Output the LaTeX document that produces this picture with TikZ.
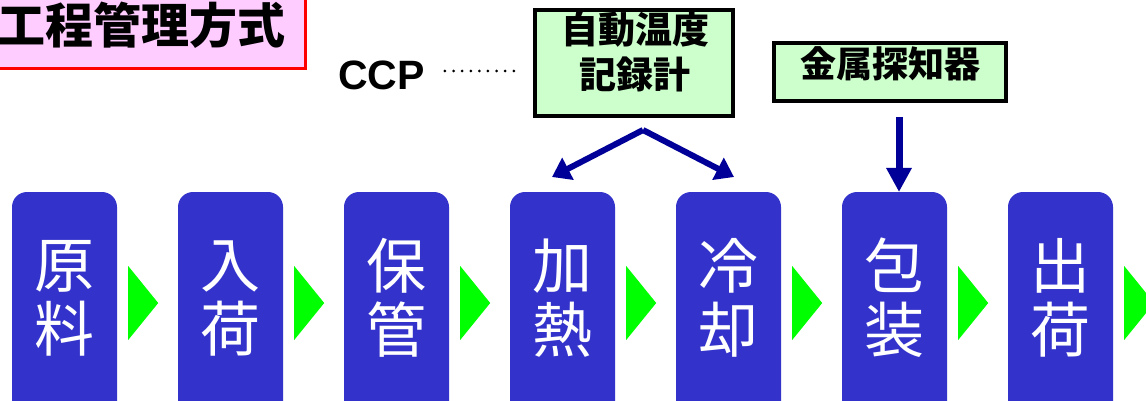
\documentclass[tikz,border=0pt]{standalone}
\usepackage{fontspec}
\setsansfont{Liberation Sans}
\newfontfamily\cjk{Noto Sans CJK JP}
\usetikzlibrary{arrows.meta,calc}
\definecolor{boxblue}{HTML}{3333CC}
\definecolor{arrowblue}{HTML}{000099}
\definecolor{tripgreen}{HTML}{00FF00}
\definecolor{titlepink}{HTML}{FFCCFF}
\definecolor{titlered}{HTML}{FF0000}
\definecolor{notegreen}{HTML}{CCFFCC}
\tikzset{
  stepbox/.style={fill=boxblue, draw=none, rounded corners=15pt, minimum width=105pt, minimum height=228pt, inner sep=0pt},
  steptext/.style={text=white, align=center, font=\cjk\fontsize{60}{64}\selectfont, inner sep=0pt},
  chev/.style={fill=tripgreen},
  notebox/.style={fill=notegreen, draw=black, line width=4pt, inner sep=0pt},
  notetext/.style={align=center, inner sep=0pt, text=black},
  bluearrow/.style={draw=arrowblue, line width=6pt, -{Triangle[length=18pt,width=24pt]}},
  dotline/.style={line width=3pt, line cap=round, dash pattern=on 0pt off 8.6pt},
}
\begin{document}
\begin{tikzpicture}[x=1pt,y=-1pt]
\useasboundingbox (0,0) rectangle (1146,401);
\clip (0,0) rectangle (1146,401);
\fill[white] (0,0) rectangle (1146,401);
% title
\node[fill=titlepink, draw=titlered, line width=3pt, minimum width=315.5pt, minimum height=78.5pt, inner sep=0pt] (title) at (147.75,29.25) {};
\node[notetext, font=\cjk\bfseries\fontsize{48}{52}\selectfont] (titletext) at (142,25) {工程管理方式};
% steps
\foreach \t [count=\n] in {原\\料,入\\荷,保\\管,加\\熱,冷\\却,包\\装,出\\荷}{
  \node[stepbox] (b\n) at ({64.5+166*(\n-1)},306) {};
  \node[steptext] (t\n) at ({64.5+166*(\n-1)},298) {\t};
  \fill[chev] ($(b\n.east)+(11,-40)$) -- ($(b\n.east)+(41,-3)$) -- ($(b\n.east)+(11,34)$) -- cycle;
}
% CCP
\node[inner sep=0pt, anchor=base west, font=\sffamily\bfseries\fontsize{41}{45}\selectfont] (ccp) at (338,90) {CCP};
% temperature recorder
\node[notebox, minimum width=198pt, minimum height=106pt] (temp) at (634,63) {};
\node[notetext, font=\cjk\bfseries\fontsize{37}{45}\selectfont] (temptext) at (635,52) {自動温度\\記録計};
\draw[dotline] (ccp.east |- 0,71) ++(20,0) coordinate (dotA) -- (522,71) coordinate (dotB);
% metal detector
\node[notebox, minimum width=232pt, minimum height=58pt] (metal) at (890,72) {};
\node[notetext, font=\cjk\bfseries\fontsize{36}{40}\selectfont] (metaltext) at (890,64) {金属探知器};
% arrows
\coordinate (apex) at (643,130);
\coordinate (heatin) at (552,177);
\coordinate (coolin) at (734,177);
\draw[bluearrow] (apex) -- (heatin);
\draw[bluearrow] (apex) -- (coolin);
\coordinate (metalout) at (899,117);
\coordinate (packin) at (899,192);
\draw[draw=arrowblue, line width=7pt, -{Triangle[length=24pt,width=24pt]}] (metalout) -- (packin);
\end{tikzpicture}
\end{document}
